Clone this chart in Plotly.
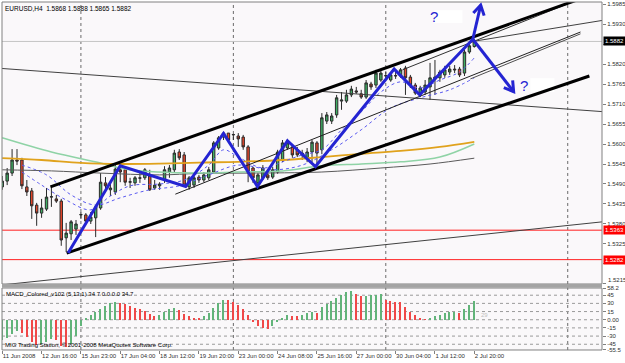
import plotly.graph_objects as go

# ---------------- data ----------------
bars = list(range(97))
opens = [
1.5482, 1.5498, 1.5520, 1.5556, 1.5556, 1.5482, 1.5471, 1.5432, 1.5410, 1.5421,
1.5454, 1.5449, 1.5443, 1.5342, 1.5353, 1.5366, 1.5405, 1.5405, 1.5388, 1.5397,
1.5424, 1.5493, 1.5474, 1.5468, 1.5529, 1.5529, 1.5495, 1.5493, 1.5507, 1.5507,
1.5512, 1.5479, 1.5485, 1.5501, 1.5523, 1.5529, 1.5578, 1.5570, 1.5482, 1.5487,
1.5509, 1.5501, 1.5507, 1.5523, 1.5589, 1.5619, 1.5630, 1.5625, 1.5622, 1.5619,
1.5592, 1.5534, 1.5493, 1.5507, 1.5515, 1.5509, 1.5523, 1.5556, 1.5589, 1.5592,
1.5584, 1.5570, 1.5562, 1.5578, 1.5603, 1.5584, 1.5663, 1.5663, 1.5680, 1.5718,
1.5718, 1.5735, 1.5746, 1.5738, 1.5729, 1.5765, 1.5762, 1.5776, 1.5787, 1.5776,
1.5787, 1.5787, 1.5809, 1.5784, 1.5762, 1.5740, 1.5743, 1.5757, 1.5779, 1.5782,
1.5790, 1.5798, 1.5806, 1.5806, 1.5795, 1.5853, 1.5868]
highs = [
1.5512, 1.5534, 1.5586, 1.5586, 1.5562, 1.5501, 1.5479, 1.5438, 1.5449, 1.5479,
1.5482, 1.5460, 1.5449, 1.5383, 1.5391, 1.5391, 1.5413, 1.5410, 1.5413, 1.5432,
1.5520, 1.5509, 1.5493, 1.5542, 1.5542, 1.5534, 1.5507, 1.5512, 1.5520, 1.5534,
1.5529, 1.5501, 1.5495, 1.5539, 1.5542, 1.5584, 1.5586, 1.5578, 1.5512, 1.5515,
1.5515, 1.5523, 1.5537, 1.5608, 1.5622, 1.5633, 1.5630, 1.5628, 1.5630, 1.5625,
1.5597, 1.5537, 1.5520, 1.5542, 1.5529, 1.5537, 1.5584, 1.5611, 1.5614, 1.5597,
1.5592, 1.5584, 1.5589, 1.5611, 1.5608, 1.5685, 1.5688, 1.5685, 1.5735, 1.5743,
1.5749, 1.5760, 1.5757, 1.5749, 1.5776, 1.5771, 1.5804, 1.5804, 1.5798, 1.5798,
1.5806, 1.5809, 1.5815, 1.5790, 1.5768, 1.5760, 1.5776, 1.5823, 1.5831, 1.5804,
1.5815, 1.5815, 1.5817, 1.5812, 1.5859, 1.5878, 1.5888]
lows = [
1.5474, 1.5487, 1.5512, 1.5542, 1.5476, 1.5457, 1.5394, 1.5375, 1.5397, 1.5416,
1.5427, 1.5438, 1.5320, 1.5303, 1.5336, 1.5350, 1.5394, 1.5383, 1.5380, 1.5344,
1.5419, 1.5468, 1.5457, 1.5460, 1.5495, 1.5485, 1.5479, 1.5485, 1.5493, 1.5501,
1.5471, 1.5474, 1.5474, 1.5493, 1.5507, 1.5523, 1.5556, 1.5482, 1.5474, 1.5479,
1.5493, 1.5495, 1.5501, 1.5518, 1.5584, 1.5611, 1.5603, 1.5611, 1.5592, 1.5584,
1.5495, 1.5493, 1.5482, 1.5501, 1.5501, 1.5504, 1.5518, 1.5550, 1.5584, 1.5562,
1.5564, 1.5556, 1.5550, 1.5550, 1.5539, 1.5572, 1.5655, 1.5655, 1.5672, 1.5694,
1.5713, 1.5729, 1.5738, 1.5724, 1.5724, 1.5749, 1.5754, 1.5771, 1.5776, 1.5771,
1.5779, 1.5782, 1.5735, 1.5754, 1.5735, 1.5729, 1.5735, 1.5721, 1.5735, 1.5771,
1.5782, 1.5790, 1.5795, 1.5784, 1.5787, 1.5848, 1.5865]
closes = [
1.5498, 1.5520, 1.5556, 1.5553, 1.5485, 1.5468, 1.5430, 1.5410, 1.5424, 1.5454,
1.5455, 1.5443, 1.5336, 1.5355, 1.5386, 1.5380, 1.5406, 1.5388, 1.5399, 1.5427,
1.5495, 1.5485, 1.5479, 1.5531, 1.5523, 1.5495, 1.5496, 1.5507, 1.5506, 1.5529,
1.5474, 1.5487, 1.5490, 1.5529, 1.5534, 1.5575, 1.5562, 1.5487, 1.5507, 1.5507,
1.5501, 1.5515, 1.5529, 1.5603, 1.5617, 1.5630, 1.5611, 1.5626, 1.5614, 1.5592,
1.5520, 1.5507, 1.5515, 1.5534, 1.5507, 1.5529, 1.5578, 1.5603, 1.5603, 1.5570,
1.5570, 1.5575, 1.5578, 1.5605, 1.5575, 1.5672, 1.5680, 1.5677, 1.5727, 1.5721,
1.5735, 1.5751, 1.5743, 1.5729, 1.5768, 1.5757, 1.5795, 1.5795, 1.5788, 1.5790,
1.5788, 1.5804, 1.5782, 1.5762, 1.5740, 1.5754, 1.5762, 1.5782, 1.5784, 1.5798,
1.5804, 1.5806, 1.5804, 1.5790, 1.5853, 1.5870, 1.5882]

macd = [
-38, -34, -26, -20, -25, -31, -40, -46, -44, -40,
-36, -38, -48, -50, -44, -30, -12, 4, 9, 14,
20, 25, 30, 33, 31, 29, 26, 22, 19, 16,
11, 6, 9, 14, 19, 22, 18, 10, 6, 4,
3, 6, 12, 22, 30, 37, 36, 32, 27, 20,
8, -5, -11, -15, -17, -12, -4, 4, 8, 7,
6, 9, 12, 14, 12, 24, 29, 35, 40, 46,
50, 52, 48, 43, 44, 45, 46, 47, 37, 34,
33, 32, 24, 15, 9, 3, 1, 3, 7, 9,
12, 14, 15, 12, 20, 27, 34.7]

time_label_bars = [0, 8, 16, 24, 32, 40, 48, 56, 64, 72, 80, 88, 96]
time_labels = ["11 Jun 2008", "12 Jun 16:00", "15 Jun 23:00", "17 Jun 04:00",
               "18 Jun 12:00", "19 Jun 20:00", "23 Jun 00:00", "24 Jun 08:00",
               "25 Jun 16:00", "27 Jun 00:00", "30 Jun 04:00", "1 Jul 12:00",
               "2 Jul 20:00"]
price_ticks = [1.5985, 1.5930, 1.5875, 1.5820, 1.5765, 1.5710, 1.5655, 1.5600,
               1.5545, 1.5490, 1.5435, 1.5380, 1.5325, 1.5270, 1.5215]
# 1.5875 and 1.5270 sit under the price boxes; 1.5215 is drawn as a note above the edge
price_tick_text = ["1.5985", "1.5930", "", "1.5820", "1.5765", "1.5710", "1.5655",
                   "1.5600", "1.5545", "1.5490", "1.5435", "1.5380", "1.5325", "", ""]
bottom_price_label = 1.5215
macd_ticks = [58.2, 45, 30, 15, 0, -15, -30, -45, -55.5]
macd_tick_text = ["58.2", "45", "30", "15", "0.00", "-15", "-30", "-45", "-55.5"]
macd_levels = [45, 30, 15, 0, -15, -30, -45]

# moving averages (read at sample bars)
ma_gray_bars = [0, 10, 20, 32, 40, 50, 65, 77, 87, 96]
ma_gray = [1.5529, 1.5526, 1.5520, 1.5515, 1.5519, 1.5520, 1.5523, 1.5534, 1.5545, 1.5561]
ma_orange_bars = [0, 8, 16, 24, 32, 40, 48, 57, 65, 73, 81, 89, 96]
ma_orange = [1.5561, 1.5556, 1.5548, 1.5545, 1.5546, 1.5549, 1.5551, 1.5556, 1.5564,
             1.5573, 1.5581, 1.5592, 1.5606]
ma_green_bars = [0, 10, 20, 26, 40, 48, 57, 65, 73, 81, 89, 96]
ma_green = [1.5617, 1.5578, 1.5548, 1.5529, 1.5520, 1.5523, 1.5526, 1.5540, 1.5545,
            1.5551, 1.5564, 1.5600]
dot_fast_bars = [4, 8, 13, 18, 22, 26, 32, 37, 42, 45, 48, 53, 57, 61, 65, 69, 73, 77, 81, 85, 89, 93, 96]
dot_fast = [1.5523, 1.5487, 1.5446, 1.5419, 1.5457, 1.5485, 1.5490, 1.5501, 1.5542, 1.5584,
            1.5564, 1.5534, 1.5551, 1.5570, 1.5584, 1.5639, 1.5688, 1.5743, 1.5771, 1.5754,
            1.5776, 1.5798, 1.5837]
dot_slow_bars = [4, 9, 14, 19, 24, 30, 36, 42, 48, 55, 61, 67, 73, 79, 85, 91, 96]
dot_slow = [1.5542, 1.5515, 1.5460, 1.5432, 1.5452, 1.5474, 1.5485, 1.5515, 1.5542, 1.5529,
            1.5542, 1.5584, 1.5639, 1.5699, 1.5727, 1.5749, 1.5782]

# hand-drawn objects (bar, price)
channel_upper_bars = [9.8, 122.1]
channel_upper = [1.5482, 1.6021]
channel_lower_bars = [13.1, 119.4]
channel_lower = [1.5300, 1.5787]
mid_line_bars = [35.2, 117.6]
mid_line = [1.5462, 1.5908]
mid_line2_bars = [95.2, 117.6]
mid_line2 = [1.5779, 1.5903]
inner_upper_bars = [81.4, 122.1]
inner_upper = [1.5804, 1.6024]
short_line_bars = [95.2, 122.1]
short_line = [1.5881, 1.5940]
long_down_bars = [-0.4, 122.1]
long_down = [1.5808, 1.5689]
long_up_bars = [-0.4, 122.1]
long_up = [1.5212, 1.5386]
zigzag_bars = [13.4, 24.0, 37.3, 45.0, 51.9, 58.0, 63.7, 79.7, 84.9, 95.7]
zigzag = [1.5300, 1.5540, 1.5483, 1.5629, 1.5483, 1.5609, 1.5538, 1.5806, 1.5735, 1.5888]
arrow_up_bars = [95.7, 97.3]
arrow_up = [1.5888, 1.5982]
arrow_up_head_bars = [95.8, 97.3, 98.0]
arrow_up_head = [1.5960, 1.5982, 1.5953]
arrow_dn_bars = [95.7, 104.0]
arrow_dn = [1.5888, 1.5744]
arrow_dn_head_bars = [102.0, 104.0, 103.8]
arrow_dn_head = [1.5755, 1.5744, 1.5775]
question_bars = [87.8, 106.1]
question_prices = [1.5950, 1.5762]
note_box_bars = [[87.9, 93.6], [107.4, 112.3]]
note_box_prices = [[1.5933, 1.5968], [1.5743, 1.5781]]
separator_bars = [16, 47, 78, 115]
bid_price = 1.5882
red_levels = [1.5363, 1.5282]

# ---------------- figure ----------------
FONT = "Liberation Sans, Arial, sans-serif"
BLUE = "#2424d2"
GREEN_HIST = "#62b47a"
RED_HIST = "#f04848"

fig = go.Figure()

fig.add_trace(go.Candlestick(
    x=bars, open=opens, high=highs, low=lows, close=closes,
    increasing=dict(fillcolor="#3fae64", line=dict(color="#2a2a2a", width=1)),
    decreasing=dict(fillcolor="#e8472b", line=dict(color="#2a2a2a", width=1)),
    whiskerwidth=0, xaxis="x", yaxis="y", hoverinfo="skip"))

def add_line(xs, ys, color, width, dash="solid", shape="linear", yaxis="y"):
    fig.add_trace(go.Scatter(x=xs, y=ys, mode="lines", xaxis="x", yaxis=yaxis,
                             line=dict(color=color, width=width, dash=dash, shape=shape),
                             hoverinfo="skip"))

add_line(ma_gray_bars, ma_gray, "#5a5a5a", 1, shape="spline")
add_line(ma_green_bars, ma_green, "#8fd3a6", 1.5, shape="spline")
add_line(ma_orange_bars, ma_orange, "#e0a21c", 1.8, shape="spline")
add_line(dot_slow_bars, dot_slow, "#5a5af0", 1, dash="dot", shape="spline")
add_line(dot_fast_bars, dot_fast, "#5a5af0", 1, dash="dot", shape="spline")

add_line(long_down_bars, long_down, "#404040", 1)
add_line(long_up_bars, long_up, "#404040", 1)
add_line(mid_line_bars, mid_line, "#202020", 1)
add_line(mid_line2_bars, mid_line2, "#505050", 1)
add_line(inner_upper_bars, inner_upper, "#303030", 1)
add_line(short_line_bars, short_line, "#404040", 1)
add_line(channel_upper_bars, channel_upper, "#000000", 3)
add_line(channel_lower_bars, channel_lower, "#000000", 3)

add_line(zigzag_bars, zigzag, BLUE, 3)
add_line(arrow_up_bars, arrow_up, BLUE, 3)
add_line(arrow_up_head_bars, arrow_up_head, BLUE, 3)
add_line(arrow_dn_bars, arrow_dn, BLUE, 3)
add_line(arrow_dn_head_bars, arrow_dn_head, BLUE, 3)

hist_colors = [GREEN_HIST if i == 0 or v >= macd[i - 1] else RED_HIST
               for i, v in enumerate(macd)]
fig.add_trace(go.Bar(x=bars, y=macd, width=0.3, xaxis="x", yaxis="y2",
                     marker=dict(color=hist_colors, line=dict(width=0)),
                     hoverinfo="skip"))

# domains: plot area px 2..351 (349 px tall)
MAIN_DOM = [0.192, 1.0]
IND_DOM = [0.0029, 0.1805]

shapes = []
for b in separator_bars:
    shapes.append(dict(type="line", xref="x", yref="paper", x0=b, x1=b,
                       y0=IND_DOM[0], y1=1, line=dict(color="#6a6a6a", width=1, dash="dot"),
                       layer="below"))
shapes.append(dict(type="line", xref="paper", yref="y", x0=0, x1=1, y0=bid_price,
                   y1=bid_price, line=dict(color="#c4c4c4", width=1), layer="below"))
for lv in red_levels:
    shapes.append(dict(type="line", xref="paper", yref="y", x0=0, x1=1, y0=lv, y1=lv,
                       line=dict(color="#ff2020", width=1), layer="below"))
for lv in macd_levels:
    shapes.append(dict(type="line", xref="paper", yref="y2", x0=0, x1=1, y0=lv, y1=lv,
                       line=dict(color="#9a9a9a", width=1, dash="dot"), layer="below"))
for bx, py in zip(note_box_bars, note_box_prices):
    shapes.append(dict(type="rect", xref="x", yref="y", x0=bx[0], x1=bx[1], y0=py[0],
                       y1=py[1], fillcolor="#ffffff", line=dict(width=0), layer="below"))
# frames and window separator
shapes.append(dict(type="rect", xref="paper", yref="paper", x0=0, x1=1, y0=MAIN_DOM[0],
                   y1=1, line=dict(color="#808080", width=1)))
shapes.append(dict(type="rect", xref="paper", yref="paper", x0=0, x1=1, y0=IND_DOM[0],
                   y1=IND_DOM[1], line=dict(color="#808080", width=1)))
shapes.append(dict(type="rect", xref="paper", yref="paper", x0=0, x1=1, y0=0.1815,
                   y1=MAIN_DOM[0], fillcolor="#a4a4a4", line=dict(width=0)))

axis_font = dict(family=FONT, size=6, color="#303030")
annotations = [
    dict(xref="paper", yref="paper", x=0, y=1, xanchor="left", yanchor="top",
         xshift=1, yshift=-1, showarrow=False,
         text="EURUSD,H4  1.5868 1.5888 1.5865 1.5882",
         font=dict(family=FONT, size=6.5, color="#000000")),
    dict(xref="paper", yref="paper", x=0, y=IND_DOM[1], xanchor="left", yanchor="top",
         xshift=2, yshift=-1, showarrow=False,
         text="MACD_Colored_v102 (5,13,1) 34.7 0.0 0.0 34.7",
         font=dict(family=FONT, size=6, color="#000000")),
    dict(xref="paper", yref="paper", x=0, y=IND_DOM[0], xanchor="left", yanchor="bottom",
         xshift=1, yshift=0, showarrow=False,
         text="MIG Trading Station, © 2001-2008 MetaQuotes Software Corp.",
         font=dict(family=FONT, size=6, color="#000000")),
    dict(xref="x", yref="y2", x=97.0, y=9, xanchor="left", showarrow=False, text="29",
         font=dict(family=FONT, size=6, color="#c0c0c0")),
    dict(xref="paper", yref="y", x=1, y=bottom_price_label, xanchor="left",
         yanchor="bottom", xshift=4, yshift=-1, showarrow=False,
         text=f"{bottom_price_label:.4f}", font=axis_font),
    dict(xref="paper", yref="y", x=1, y=bid_price, xanchor="left", xshift=1,
         showarrow=False, text="1.5882", bgcolor="#000000", borderpad=1,
         font=dict(family=FONT, size=6, color="#ffffff")),
]
for lv in red_levels:
    annotations.append(dict(xref="paper", yref="y", x=1, y=lv, xanchor="left", xshift=1,
                            showarrow=False, text=f"{lv:.4f}", bgcolor="#ff0000",
                            borderpad=1, font=dict(family=FONT, size=6, color="#ffffff")))
for qb, qp in zip(question_bars, question_prices):
    annotations.append(dict(xref="x", yref="y", x=qb, y=qp, showarrow=False, text="?",
                            font=dict(family=FONT, size=15, color=BLUE)))

fig.update_layout(
    width=625, height=363,
    margin=dict(l=2, r=23, t=2, b=12, autoexpand=False),
    paper_bgcolor="#ffffff", plot_bgcolor="#faf8fa",
    showlegend=False, bargap=0,
    xaxis=dict(domain=[0, 1], range=[-0.05, 121.97], anchor="y2",
               tickvals=time_label_bars, ticktext=time_labels, ticks="outside",
               ticklen=3, tickcolor="#808080", ticklabelposition="outside right",
               tickangle=0, automargin=False,
               tickfont=axis_font, showgrid=False, zeroline=False, showline=False,
               rangeslider=dict(visible=False)),
    yaxis=dict(domain=MAIN_DOM, range=[1.5215, 1.59905], side="right", anchor="x",
               tickvals=price_ticks, ticktext=price_tick_text, automargin=False,
               ticks="outside", ticklen=3, tickcolor="#808080", tickfont=axis_font,
               showgrid=False, zeroline=False, showline=False),
    yaxis2=dict(domain=IND_DOM, range=[-55.5, 58.2], side="right", anchor="x",
                tickvals=macd_ticks, ticktext=macd_tick_text, automargin=False,
                ticks="outside", ticklen=3, tickcolor="#808080", tickfont=axis_font,
                showgrid=False, zeroline=False, showline=False),
    shapes=shapes, annotations=annotations,
)

fig.write_html("out.html")
